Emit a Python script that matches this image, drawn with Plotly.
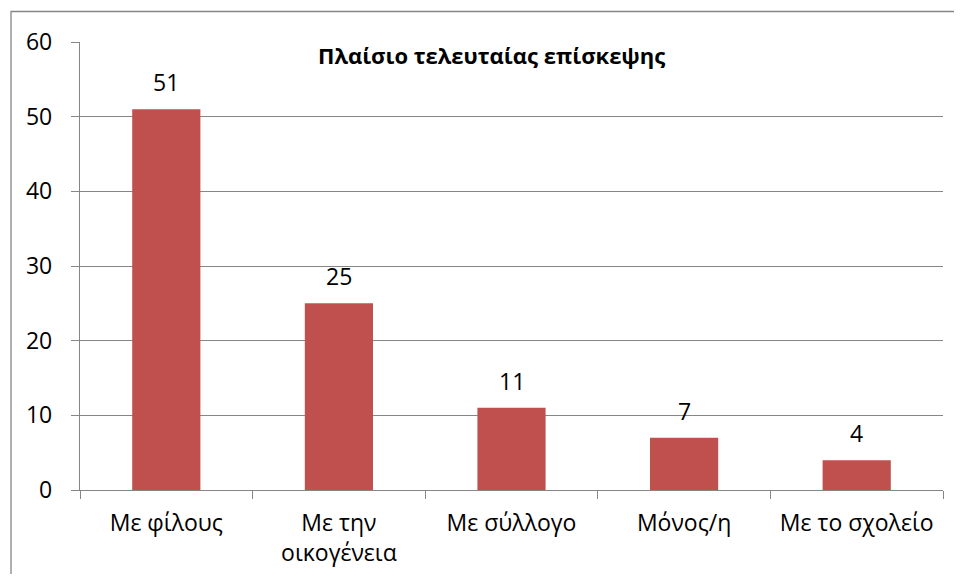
import plotly.graph_objects as go

categories = ["Με φίλους", "Με την<br>οικογένεια", "Με σύλλογο", "Μόνος/η", "Με το σχολείο"]
values = [51, 25, 11, 7, 4]
title_text = "Πλαίσιο τελευταίας επίσκεψης"
y_ticks = [0, 10, 20, 30, 40, 50, 60]

FONT = "Open Sans"
GRID = "#868686"

fig = go.Figure()
fig.add_trace(go.Bar(
    x=categories, y=values,
    marker=dict(color="#C0504D", line=dict(width=0)),
    width=0.395,
    hoverinfo="x+y",
))

for c, v in zip(categories, values):
    fig.add_annotation(x=c, y=v, xref="x", yref="y", text=str(v), showarrow=False,
                       yanchor="middle", yshift=27, font=dict(family=FONT, size=23, color="black"))

fig.add_annotation(x=0.477, y=1.0, xref="paper", yref="paper", text="<b>" + title_text + "</b>",
                   showarrow=False, yanchor="middle", yshift=-13,
                   font=dict(family=FONT, size=22, color="black"))

# page body has an 8px margin: figure occupies window px 8..954 x 8..574
W, H = 946, 566
L, T = 72, 34
R = W - 935
B = H - 482
pw, ph = W - L - R, H - T - B
fig.add_shape(type="rect", xref="paper", yref="paper",
              x0=(3 - L) / pw, x1=(990 - L) / pw,
              y0=(H - B - 650) / ph, y1=(H - B - 3.5) / ph,
              line=dict(color="#868686", width=1.3), fillcolor="rgba(0,0,0,0)", layer="above")

fig.update_layout(
    width=W, height=H,
    margin=dict(l=L, r=R, t=T, b=B, pad=0, autoexpand=False),
    paper_bgcolor="white", plot_bgcolor="white",
    showlegend=False,
    font=dict(family=FONT, size=23, color="black"),
    xaxis=dict(
        type="category", showgrid=False, showline=True, linecolor=GRID, linewidth=1.3,
        ticks="outside", tickson="boundaries", ticklen=8, tickcolor=GRID, tickwidth=1.3,
        tickfont=dict(family=FONT, size=23, color="black"), ticklabelstandoff=12,
        automargin=False,
    ),
    yaxis=dict(
        range=[0, 60], tickvals=y_ticks, showgrid=True, gridcolor=GRID, gridwidth=1.3,
        showline=True, linecolor=GRID, linewidth=1.3, zeroline=False,
        ticks="outside", ticklen=8, tickcolor=GRID, tickwidth=1.3,
        tickfont=dict(family=FONT, size=23, color="black"), ticklabelstandoff=14,
        automargin=False,
    ),
    bargap=0.6,
)

fig.write_html("out.html")
